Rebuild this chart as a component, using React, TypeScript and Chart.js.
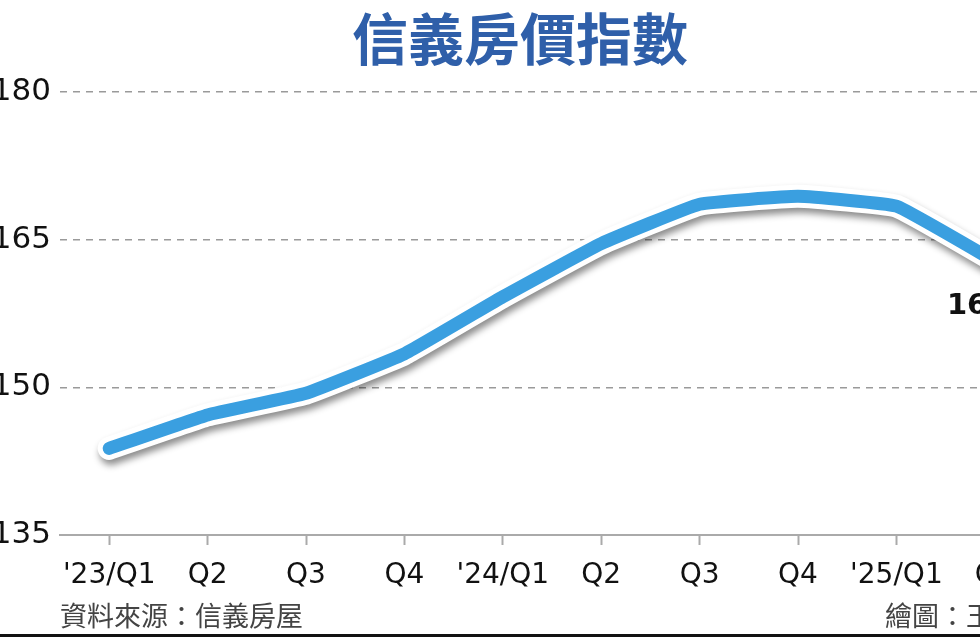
import React, { useEffect, useRef } from "react";
import { Chart, registerables } from "chart.js";

Chart.register(...registerables);

const categories = ["'23/Q1", "Q2", "Q3", "Q4", "'24/Q1", "Q2", "Q3", "Q4", "'25/Q1", "Q2"];
const indexValues = [143.8, 147.2, 149.4, 153.4, 159.2, 164.6, 168.6, 169.4, 168.4, 162.8];
const yTicks = [135, 150, 165, 180];
const titleText = "信義房價指數";
const sourceText = "資料來源：信義房屋";
const creditText = "繪圖：王";
const lastLabel = "162.8";

const shadowPlugin = {
  id: "lineShadow",
  beforeDatasetDraw(chart: any, args: any) {
    if (args.index === 1) {
      const ctx = chart.ctx;
      ctx.save();
      ctx.shadowColor = "rgba(0,0,0,0.45)";
      ctx.shadowBlur = 7;
      ctx.shadowOffsetX = 2;
      ctx.shadowOffsetY = 5;
    }
  },
  afterDatasetDraw(chart: any, args: any) {
    if (args.index === 1) chart.ctx.restore();
  },
};

const lastLabelPlugin = {
  id: "lastLabel",
  afterDatasetsDraw(chart: any) {
    const meta = chart.getDatasetMeta(0);
    const pt = meta.data[meta.data.length - 1];
    if (!pt) return;
    const ctx = chart.ctx;
    ctx.save();
    ctx.font = "bold 29px 'DejaVu Sans', sans-serif";
    ctx.fillStyle = "#111";
    ctx.textAlign = "center";
    ctx.textBaseline = "middle";
    ctx.fillText(lastLabel, pt.x - 2, pt.y + 45);
    ctx.restore();
  },
};

export default function App() {
  const ref = useRef<HTMLCanvasElement>(null);
  useEffect(() => {
    if (!ref.current) return;
    const chart = new Chart(ref.current, {
      type: "line",
      data: {
        labels: categories,
        datasets: [
          {
            data: indexValues,
            borderColor: "#3a9fe0",
            borderWidth: 13,
            borderCapStyle: "round",
            borderJoinStyle: "round",
            tension: 0.1,
            pointRadius: 0,
            clip: false,
          },
          {
            data: indexValues,
            borderColor: "#ffffff",
            borderWidth: 23,
            borderCapStyle: "round",
            borderJoinStyle: "round",
            tension: 0.1,
            pointRadius: 0,
            clip: false,
          },
        ],
      },
      plugins: [shadowPlugin, lastLabelPlugin],
      options: {
        animation: false,
        responsive: false,
        layout: { padding: { top: 92, left: 0, right: 0, bottom: 0 } },
        plugins: { legend: { display: false }, tooltip: { enabled: false }, title: { display: false } },
        scales: {
          x: {
            offset: true,
            afterFit: (s: any) => { s.height = 102; },
            grid: { drawOnChartArea: false, drawTicks: true, tickLength: 10, tickColor: "#aaaaaa", tickWidth: 2, color: "#aaaaaa" },
            border: { display: true, color: "#aaaaaa", width: 2 },
            ticks: { color: "#111", padding: 14, font: { family: "'DejaVu Sans', sans-serif", size: 28 }, maxRotation: 0, autoSkip: false },
          },
          y: {
            min: 135,
            max: 180,
            afterFit: (s: any) => { s.width = 60; },
            afterBuildTicks: (s: any) => { s.ticks = yTicks.map((v) => ({ value: v })); },
            grid: {
              drawTicks: false,
              color: (c: any) => (c.tick && c.tick.value === 135 ? "rgba(0,0,0,0)" : "#9a9a9a"),
              lineWidth: 1.5,
            },
            border: { display: false, dash: [7, 6] },
            ticks: { color: "#111", padding: 9, font: { family: "'DejaVu Sans', sans-serif", size: 31 } },
          },
        },
      },
    });
    return () => chart.destroy();
  }, []);

  return (
    <div style={{ position: "fixed", left: 0, top: 0, width: 980, height: 637, overflow: "hidden", background: "#fff" }}>
      <canvas ref={ref} width={1044} height={637} style={{ position: "absolute", left: 0, top: 0, width: 1044, height: 637 }} />
      <div style={{ position: "absolute", left: 0, top: 4, width: 1040, textAlign: "center", fontFamily: "'Noto Sans CJK TC', sans-serif", fontWeight: 700, fontSize: 56, lineHeight: "64px", color: "#2f5fa9", whiteSpace: "nowrap" }}>{titleText}</div>
      <div style={{ position: "absolute", left: 60, top: 598, fontFamily: "'Noto Sans CJK TC', sans-serif", fontSize: 27, lineHeight: "34px", color: "#444", whiteSpace: "nowrap" }}>{sourceText}</div>
      <div style={{ position: "absolute", left: 885, top: 598, fontFamily: "'Noto Sans CJK TC', sans-serif", fontSize: 27, lineHeight: "34px", color: "#444", whiteSpace: "nowrap" }}>{creditText}</div>
      <div style={{ position: "absolute", left: 0, top: 634, width: 980, height: 3, background: "#111" }} />
    </div>
  );
}
